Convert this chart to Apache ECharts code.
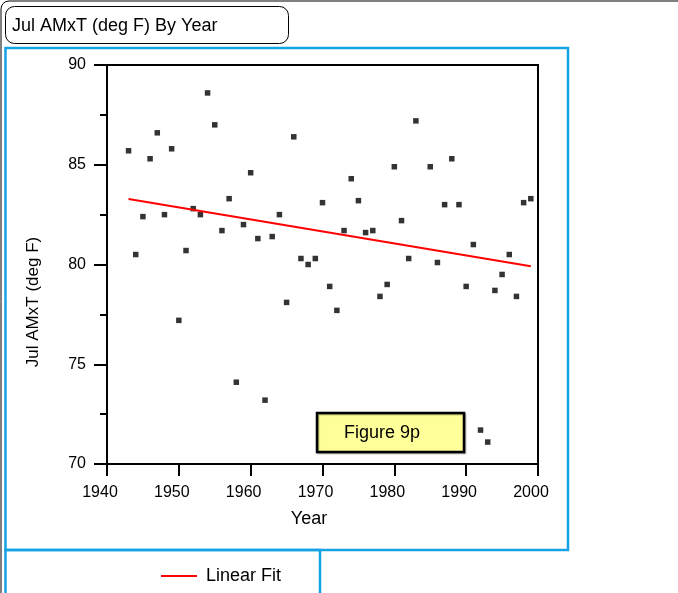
<!DOCTYPE html>
<html>
<head>
<meta charset="utf-8">
<script src="https://cdn.jsdelivr.net/npm/echarts@6/dist/echarts.min.js"></script>
<style>
  html, body { margin: 0; padding: 0; background: #fff; }
  #chart { width: 678px; height: 593px; }
</style>
</head>
<body>
<div id="chart"></div>
<script>
// July average maximum temperature (deg F), one value per year
const years = [
  1943, 1944, 1945, 1946, 1947, 1948, 1949, 1950, 1951, 1952,
  1953, 1954, 1955, 1956, 1957, 1958, 1959, 1960, 1961, 1962,
  1963, 1964, 1965, 1966, 1967, 1968, 1969, 1970, 1971, 1972,
  1973, 1974, 1975, 1976, 1977, 1978, 1979, 1980, 1981, 1982,
  1983, 1985, 1986, 1987, 1988, 1989, 1990, 1991, 1992, 1993,
  1994, 1995, 1996, 1997, 1998, 1999
];
const julAMxT = [
  85.7, 80.5, 82.4, 85.3, 86.6, 82.5, 85.8, 77.2, 80.7, 82.8,
  82.5, 88.6, 87.0, 81.7, 83.3, 74.1, 82.0, 84.6, 81.3, 73.2,
  81.4, 82.5, 78.1, 86.4, 80.3, 80.0, 80.3, 83.1, 78.9, 77.7,
  81.7, 84.3, 83.2, 81.6, 81.7, 78.4, 79.0, 84.9, 82.2, 80.3,
  87.2, 84.9, 80.1, 83.0, 85.3, 83.0, 78.9, 81.0, 71.7, 71.1,
  78.7, 79.5, 80.5, 78.4, 83.1, 83.3
];
// End points of the fitted trend line
const fitYears = [1943, 1999];
const fitValues = [83.28, 79.91];

const xTicks = { min: 1940, max: 2000, step: 10 };
const yTicks = { min: 70, max: 90, step: 5 };

const FONT = '"Liberation Sans", Arial, sans-serif';
const BLUE = '#17a3e3';

const chart = echarts.init(document.getElementById('chart'), null, { renderer: 'canvas' });

chart.setOption({
  animation: false,
  backgroundColor: '#ffffff',
  textStyle: { fontFamily: FONT },
  grid: {
    left: 107, right: 140, top: 65, bottom: 129,
    show: true, borderColor: '#000', borderWidth: 2, backgroundColor: 'transparent'
  },
  legend: {
    data: ['Linear Fit'],
    left: 156, top: 562,
    icon: 'rect', itemWidth: 36, itemHeight: 2, itemGap: 8,
    textStyle: { fontFamily: FONT, fontSize: 18, color: '#000', padding: [0, 0, 0, 4] }
  },
  xAxis: {
    type: 'value',
    min: xTicks.min, max: xTicks.max, interval: xTicks.step,
    axisLine: { show: true, lineStyle: { color: '#000', width: 2 } },
    axisTick: { show: true, length: 12, lineStyle: { color: '#000', width: 2 } },
    axisLabel: { fontFamily: FONT, fontSize: 16, color: '#000', margin: 21,
                 padding: [0, 14, 0, 0], formatter: v => String(v) },
    splitLine: { show: false }
  },
  yAxis: {
    type: 'value',
    min: yTicks.min, max: yTicks.max, interval: yTicks.step,
    axisLine: { show: true, lineStyle: { color: '#000', width: 2 } },
    axisTick: { show: true, length: 13, lineStyle: { color: '#000', width: 2 } },
    minorTick: { show: true, splitNumber: 2, length: 7, lineStyle: { color: '#000', width: 2 } },
    axisLabel: { fontFamily: FONT, fontSize: 16, color: '#000', margin: 21 },
    splitLine: { show: false }
  },
  series: [
    {
      name: 'Jul AMxT',
      type: 'scatter',
      symbol: 'rect',
      symbolSize: 5.5,
      itemStyle: { color: '#000' },
      data: years.map((y, i) => [y, julAMxT[i]]),
      z: 3
    },
    {
      name: 'Linear Fit',
      type: 'line',
      showSymbol: false,
      symbol: 'none',
      lineStyle: { color: '#ff0000', width: 2 },
      itemStyle: { color: '#ff0000' },
      data: fitYears.map((y, i) => [y, fitValues[i]]),
      z: 4
    }
  ],
  graphic: [
    // outer page frame (top-left rounded corner)
    { type: 'rect', shape: { x: 1, y: 1, width: 760, height: 700, r: 8 },
      style: { fill: 'none', stroke: '#000', lineWidth: 1 }, silent: true, z: 0 },
    // title box
    { type: 'rect', shape: { x: 5.5, y: 6.5, width: 283, height: 37, r: 9 },
      style: { fill: '#fff', stroke: '#000', lineWidth: 1 }, silent: true, z: 1 },
    { type: 'text', x: 12, y: 26,
      style: { text: 'Jul AMxT (deg F) By Year', font: '18px ' + FONT, fill: '#000', verticalAlign: 'middle' }, z: 2 },
    // axis titles
    { type: 'text', x: 33, y: 302, rotation: Math.PI / 2,
      style: { text: 'Jul AMxT (deg F)', font: '17px ' + FONT, fill: '#000', align: 'center', verticalAlign: 'middle' }, z: 2 },
    { type: 'text', x: 309, y: 519,
      style: { text: 'Year', font: '18px ' + FONT, fill: '#000', align: 'center', verticalAlign: 'middle' }, z: 2 },
    // plot panel frame
    { type: 'rect', shape: { x: 5.5, y: 48, width: 562.5, height: 502 },
      style: { fill: 'none', stroke: BLUE, lineWidth: 2.5 }, silent: true, z: 1 },
    // legend panel frame
    { type: 'rect', shape: { x: 5.5, y: 550, width: 314.5, height: 60 },
      style: { fill: 'none', stroke: BLUE, lineWidth: 2.5 }, silent: true, z: 1 },
    // figure tag
    { type: 'rect', shape: { x: 317, y: 413, width: 147, height: 39 },
      style: { fill: '#ffff99', stroke: '#000', lineWidth: 2.5,
               shadowColor: 'rgba(0,0,0,0.35)', shadowOffsetX: 1, shadowOffsetY: 1, shadowBlur: 1 },
      silent: true, z: 5 },
    { type: 'text', x: 382, y: 433,
      style: { text: 'Figure 9p', font: '18px ' + FONT, fill: '#000', align: 'center', verticalAlign: 'middle' },
      z: 6 }
  ]
});
</script>
</body>
</html>
